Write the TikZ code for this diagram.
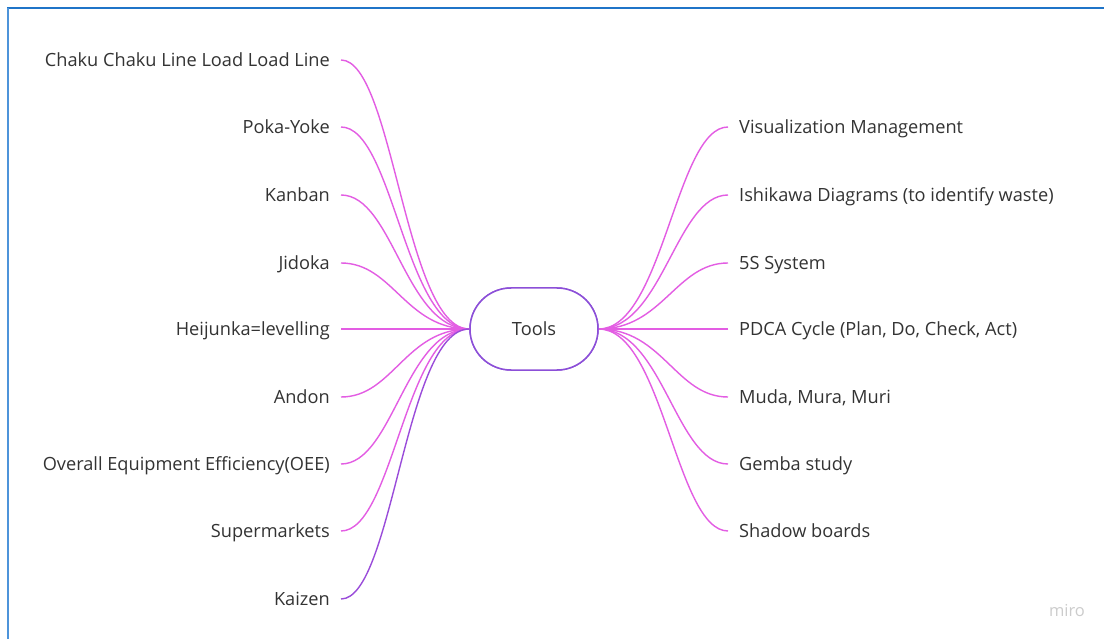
\documentclass[tikz,border=0pt]{standalone}
\usepackage{fontspec}
\setmainfont{Open Sans}
\usetikzlibrary{calc}
\definecolor{txt}{HTML}{333333}
\definecolor{mag}{HTML}{E35DE3}
\definecolor{pur}{HTML}{9A4CDA}
\definecolor{nodeb}{HTML}{8C4FD8}
\definecolor{frameb}{HTML}{1F74C8}
\definecolor{framel}{HTML}{4D94DA}
\begin{document}
\begin{tikzpicture}[x=1pt,y=-1pt,
  lbl/.style={font=\fontsize{18.2}{21}\selectfont, text=txt, inner xsep=11pt, inner ysep=0pt, text height=15pt, text depth=2pt},
  llbl/.style={lbl, anchor=east},
  rlbl/.style={lbl, anchor=west},
  conn/.style={draw=mag, line width=1.4pt},
  hub/.style={draw=nodeb, line width=1.5pt, fill=white, minimum width=128pt, minimum height=82pt, rounded corners=41pt, font=\fontsize{18.2}{21}\selectfont, text=txt, text height=15pt, text depth=2pt}]
\useasboundingbox (0,0) rectangle (1104,639);
\fill[white] (0,0) rectangle (1104,639);
\draw[frameb, line width=2pt] (7,8) -- (1104,8);
\draw[framel, line width=2pt] (8,8) -- (8,639);

\node[hub] (tools) at (534,329) {Tools};

\node[llbl] (l1) at (341,60) {Chaku Chaku Line Load Load Line};
\node[llbl] (l2) at (341,127) {Poka-Yoke};
\node[llbl] (l3) at (341,195) {Kanban};
\node[llbl] (l4) at (341,263) {Jidoka};
\node[llbl] (l5) at (341,329) {Heijunka=levelling};
\node[llbl] (l6) at (341,397) {Andon};
\node[llbl] (l7) at (341,464) {Overall Equipment Efficiency(OEE)};
\node[llbl] (l8) at (341,531) {Supermarkets};
\node[llbl] (l9) at (341,599) {Kaizen};

\node[rlbl] (r1) at (728,127) {Visualization Management};
\node[rlbl] (r2) at (728,195) {Ishikawa Diagrams (to identify waste)};
\node[rlbl] (r3) at (728,263) {5S System};
\node[rlbl] (r4) at (728,329) {PDCA Cycle (Plan, Do, Check, Act)};
\node[rlbl] (r5) at (728,397) {Muda, Mura, Muri};
\node[rlbl] (r6) at (728,464) {Gemba study};
\node[rlbl] (r7) at (728,531) {Shadow boards};

\foreach \n in {l1,l2,l3,l4,l5,l6,l7,l8}{
  \draw[conn] (\n.east) .. controls ($(\n.east)+(52,0)$) and ($(tools.west)-(64,0)$) .. (tools.west);
}
\draw[conn, draw=pur] (l9.east) .. controls ($(l9.east)+(52,0)$) and ($(tools.west)-(64,0)$) .. (tools.west);
\foreach \n in {r1,r2,r3,r4,r5,r6,r7}{
  \draw[conn] (\n.west) .. controls ($(\n.west)-(52,0)$) and ($(tools.east)+(64,0)$) .. (tools.east);
}
\node[hub] at (tools) {Tools};

\node[font=\fontsize{16.5}{19}\selectfont, text=black!20] (miro) at (1067,611) {miro};
\end{tikzpicture}
\end{document}
